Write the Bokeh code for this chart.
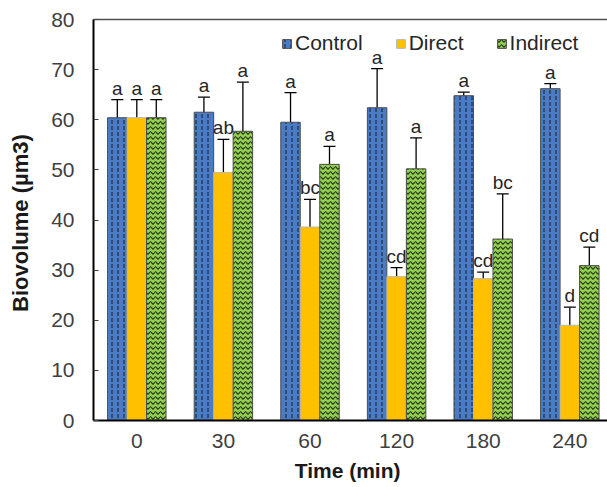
from bokeh.plotting import figure
from bokeh.models import (ColumnDataSource, Range1d, FixedTicker, LinearAxis, Whisker,
                          TeeHead, Legend, LegendItem)
from bokeh.transform import dodge
from bokeh.core.properties import value
from bokeh.embed import file_html
from bokeh.resources import INLINE

times = ["0", "30", "60", "120", "180", "240"]
control = [60.4, 61.5, 59.5, 62.4, 64.8, 66.2]
control_err = [3.6, 3.0, 5.9, 7.8, 0.7, 1.0]
direct = [60.4, 49.5, 38.6, 28.7, 28.3, 19.0]
direct_err = [3.6, 6.6, 5.5, 1.8, 1.3, 3.6]
indirect = [60.4, 57.7, 51.1, 50.2, 36.2, 30.9]
indirect_err = [3.6, 9.8, 3.6, 6.2, 9.0, 3.7]
control_lbl = ["a", "a", "a", "a", "a", "a"]
direct_lbl = ["a", "ab", "bc", "cd", "cd", "d"]
indirect_lbl = ["a", "a", "a", "a", "bc", "cd"]

FONT = "Liberation Sans"
idx = list(range(len(times)))

p = figure(width=607, height=487, output_backend="svg", toolbar_location=None,
           x_range=Range1d(-0.5, 5.435), y_range=Range1d(0, 80),
           min_border_left=93, min_border_right=0, min_border_top=19, min_border_bottom=67)
p.outline_line_color = None
p.xgrid.visible = False
p.ygrid.visible = False
p.background_fill_color = "white"

bw = 0.225
series = [
    ("Control", control, control_err, control_lbl, -bw, "#4A7CC6", ":", "#1F2A44", 6, "#4d4d4d"),
    ("Direct", direct, direct_err, direct_lbl, 0.0, "#FFC000", None, None, None, "#B8B8B8"),
    ("Indirect", indirect, indirect_err, indirect_lbl, bw, "#92D050", "v", "#2b3a1b", 5, "#4d4d4d"),
]

legend_items = []
for name, vals, errs, lbls, off, color, hatch, hcolor, hscale, lcolor in series:
    src = ColumnDataSource(dict(
        x=idx, top=vals,
        upper=[v + e for v, e in zip(vals, errs)],
        lower=[v - e for v, e in zip(vals, errs)],
        lbl=lbls))
    kw = {}
    if hatch:
        kw = dict(hatch_pattern=hatch, hatch_color=hcolor, hatch_scale=hscale, hatch_weight=1.2)
    r = p.vbar(x=dodge("x", off, range=p.x_range), top="top", width=bw, bottom=0, source=src,
               fill_color=color, line_color=lcolor, line_width=1, **kw)
    legend_items.append(LegendItem(label=name, renderers=[r]))
    w = Whisker(base=dodge("x", off, range=p.x_range), upper="upper", lower="lower", source=src,
                line_color="black", line_width=1.3,
                upper_head=TeeHead(size=12, line_color="black", line_width=1.3),
                lower_head=TeeHead(size=12, line_color="black", line_width=1.3))
    p.add_layout(w)
    p.text(x=dodge("x", off, range=p.x_range), y="upper", text="lbl", source=src,
           text_font=value(FONT), text_font_size="19px", text_color="#262626",
           text_align="center", text_baseline="bottom", y_offset=-1)

# y axis
ya = p.yaxis[0]
ya.ticker = FixedTicker(ticks=list(range(0, 81, 10)))
ya.minor_tick_line_color = None
ya.major_tick_in = 5
ya.major_tick_out = 0
ya.major_tick_line_color = "#404040"
ya.axis_line_color = "black"
ya.axis_line_width = 2
ya.major_label_standoff = 19
ya.major_label_text_font = FONT
ya.major_label_text_font_size = "21px"
ya.major_label_text_color = "#404040"
ya.axis_label = "Biovolume  (µm3)"
ya.axis_label_text_font = FONT
ya.axis_label_text_font_style = "bold"
ya.axis_label_text_font_size = "22px"
ya.axis_label_text_color = "#1a1a1a"
ya.axis_label_standoff = 15

# x axis
xa = p.xaxis[0]
xa.ticker = FixedTicker(ticks=idx)
xa.major_label_overrides = {i: t for i, t in zip(idx, times)}
xa.minor_tick_line_color = None
xa.major_tick_line_color = None
xa.major_tick_in = 0
xa.major_tick_out = 0
xa.axis_line_color = "black"
xa.axis_line_width = 2
xa.major_label_standoff = 13
xa.major_label_text_font = FONT
xa.major_label_text_font_size = "21px"
xa.major_label_text_color = "#404040"
xa.axis_label = "Time  (min)"
xa.axis_label_text_font = FONT
xa.axis_label_text_font_style = "bold"
xa.axis_label_text_font_size = "21px"
xa.axis_label_text_color = "#1a1a1a"
xa.axis_label_standoff = 8

# top border line
top = LinearAxis(ticker=FixedTicker(ticks=[]), major_tick_out=0, major_tick_in=0,
                 minor_tick_out=0, minor_tick_in=0, major_label_standoff=0,
                 major_label_text_font_size="0px", axis_line_color="#505050", axis_line_width=1.5)
p.add_layout(top, "above")

leg = Legend(items=legend_items, orientation="horizontal", location=(188, 365))
leg.background_fill_alpha = 0
leg.border_line_color = None
leg.padding = 0
leg.margin = 0
leg.spacing = 32
leg.glyph_width = 11
leg.glyph_height = 11
leg.label_standoff = 3
leg.label_height = 11
leg.label_text_font = FONT
leg.label_text_font_size = "21px"
leg.label_text_color = "#262626"
p.add_layout(leg, "center")

open("out.html", "w").write(file_html(p, INLINE))
